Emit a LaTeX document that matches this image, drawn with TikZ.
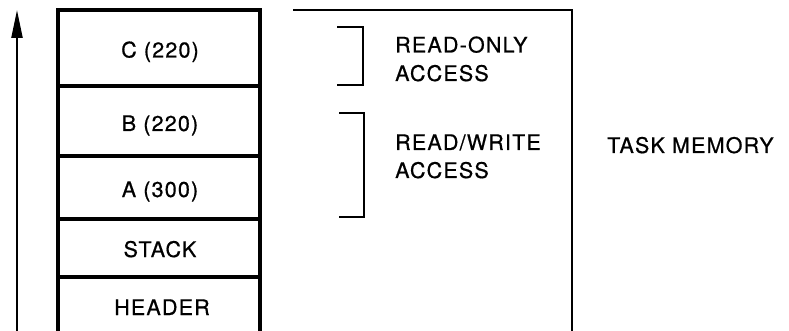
\documentclass[tikz,border=0pt]{standalone}
\usepackage{fontspec}
\setmainfont{TeX Gyre Heros}[LetterSpace=5.5,FakeBold=0.7]
\usetikzlibrary{arrows.meta}
\tikzset{
  boxline/.style={line width=3.2pt},
  frameline/.style={line width=2.8pt},
  brackline/.style={line width=2.4pt},
  lab/.style={inner sep=0pt, font=\fontsize{21.5}{25}\selectfont},
}
\begin{document}
\begin{tikzpicture}[x=1pt,y=-1pt]
\useasboundingbox (0,0) rectangle (789,331);
% upward arrow
\coordinate (arrbot) at (17,333);
\coordinate (arrtop) at (17,10);
\draw[line width=2.2pt, -{Triangle[length=28pt,width=11pt]}] (arrbot) -- (arrtop);
% memory cells
\coordinate (tl) at (58,10);
\coordinate (tr) at (260,10);
\coordinate (bl) at (58,333);
\coordinate (br) at (260,333);
\draw[boxline] (bl) -- (tl) -- (tr) -- (br);
\coordinate (d1l) at (58,86);  \coordinate (d1r) at (260,86);
\coordinate (d2l) at (58,156); \coordinate (d2r) at (260,156);
\coordinate (d3l) at (58,219); \coordinate (d3r) at (260,219);
\coordinate (d4l) at (58,277); \coordinate (d4r) at (260,277);
\draw[boxline] (d1l) -- (d1r);
\draw[boxline] (d2l) -- (d2r);
\draw[boxline] (d3l) -- (d3r);
\draw[boxline] (d4l) -- (d4r);
\node[lab, anchor=base] (C) at (160,57.5) {C (220)};
\node[lab, anchor=base] (B) at (160,131) {B (220)};
\node[lab, anchor=base] (A) at (160,197) {A (300)};
\node[lab, anchor=base] (S) at (160,257) {STACK};
\node[lab, anchor=base] (H) at (162,315) {HEADER};
% task memory frame
\coordinate (ftl) at (293,10);
\coordinate (fbr) at (572,333);
\draw[frameline] (ftl) -| (fbr);
% brackets
\coordinate (b1t) at (337,27);
\coordinate (b1b) at (363,85);
\coordinate (b1e) at (337,85);
\draw[brackline] (b1t) -| (b1b) -- (b1e);
\coordinate (b2t) at (339,113);
\coordinate (b2b) at (364,217);
\coordinate (b2e) at (339,217);
\draw[brackline] (b2t) -| (b2b) -- (b2e);
% labels
\node[lab, anchor=base west] (ro1) at (395,52.5) {READ-ONLY};
\node[lab, anchor=base west] (ro2) at (395,81) {ACCESS};
\node[lab, anchor=base west] (rw1) at (395,150) {READ/WRITE};
\node[lab, anchor=base west] (rw2) at (395,178) {ACCESS};
\node[lab, anchor=base west] (tm) at (607,153) {TASK MEMORY};
\end{tikzpicture}
\end{document}
